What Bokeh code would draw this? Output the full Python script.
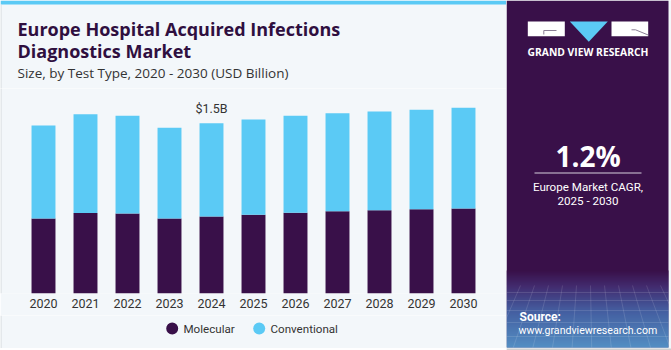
from bokeh.plotting import figure
from bokeh.models import Range1d, FactorRange, ColumnDataSource
from bokeh.layouts import row, column
from bokeh.embed import file_html
from bokeh.resources import INLINE
from bokeh.core.properties import value

# ---------------- data ----------------
years = ["2020", "2021", "2022", "2023", "2024", "2025", "2026", "2027", "2028", "2029", "2030"]
molecular = [0.66, 0.71, 0.705, 0.66, 0.678, 0.693, 0.711, 0.725, 0.734, 0.743, 0.749]
conventional = [0.82, 0.87, 0.861, 0.80, 0.822, 0.84, 0.855, 0.864, 0.869, 0.875, 0.887]
series_names = ["Molecular", "Conventional"]
series_colors = ["#391049", "#5BCAF5"]
title_lines = ["Europe Hospital Acquired Infections", "Diagnostics Market"]
subtitle = "Size, by Test Type, 2020 - 2030 (USD Billion)"
annot_year = "2024"
annot_text = "$1.5B"
cagr_value = "1.2%"
cagr_lines = ["Europe Market CAGR,", "2025 - 2030"]
brand = "GRAND VIEW RESEARCH"
source_lines = ["Source:", "www.grandviewresearch.com"]

BG = "#F3F7FA"
PURPLE = "#391049"
BLUE = "#5BCAF5"
FONT = "Roboto"
TFONT = "Open Sans"
EDGE = "#D6D9DC"


def blank(w, h, x0, x1, y0, y1, bg=BG):
    f = figure(width=w, height=h, x_range=Range1d(x0, x1), y_range=Range1d(y1, y0),
               output_backend="svg", toolbar_location=None, min_border=0,
               x_axis_location=None, y_axis_location=None)
    f.grid.visible = False
    f.outline_line_color = None
    f.background_fill_color = bg
    f.border_fill_color = bg
    return f


# ---------------- header (page y 0..88) ----------------
hdr = blank(506, 88, 0, 506, 0, 88)
hdr.quad(left=[0], right=[506], top=[0], bottom=[4], color=BLUE, line_color=None)
hdr.quad(left=[0], right=[1], top=[4], bottom=[88], color=EDGE, line_color=None)
hdr.text(x=[17, 17], y=[28, 50], text=title_lines, text_font=value(TFONT),
         text_font_style="bold", text_font_size="18px", text_color="#2F0F3F",
         text_baseline="alphabetic")
hdr.text(x=[17], y=[72], text=[subtitle], text_font=value(TFONT),
         text_font_size="13.5px", text_color="#333333", text_baseline="alphabetic")

# ---------------- chart (page y 88..315) ----------------
pad = 43 / 42 - 0.5
src = ColumnDataSource(dict(year=years, Molecular=molecular, Conventional=conventional))
xr = FactorRange(*years, range_padding=pad, range_padding_units="absolute")
p = figure(width=506, height=227, x_range=xr, y_range=Range1d(0, 205 / 113.5),
           output_backend="svg", toolbar_location=None,
           min_border_left=0, min_border_right=0, min_border_top=0, min_border_bottom=22,
           y_axis_location=None)
p.background_fill_color = BG
p.border_fill_color = BG
p.outline_line_color = None
p.grid.visible = False
p.vbar_stack(series_names, x="year", width=0.57, color=series_colors,
             line_color=None, source=src)
p.xaxis.axis_line_color = None
p.xaxis.major_tick_line_color = None
p.xaxis.minor_tick_line_color = None
p.xaxis.major_tick_out = 0
p.xaxis.major_label_standoff = 5
p.xaxis.major_label_text_font = FONT
p.xaxis.major_label_text_font_size = "12.5px"
p.xaxis.major_label_text_color = "#333333"
p.quad(left=[-pad], right=[-pad + 1 / 42], top=[2], bottom=[0], color=EDGE, line_color=None)

i = years.index(annot_year)
asrc = ColumnDataSource(dict(x=[annot_year], y=[molecular[i] + conventional[i]], t=[annot_text]))
p.text(x="x", y="y", text="t", source=asrc, text_align="center", text_baseline="alphabetic",
       y_offset=-15, text_font=value(FONT), text_font_size="12.5px", text_color="#333333")

# ---------------- legend (page y 315..348) ----------------
leg = blank(506, 33, 0, 506, 315, 348)
leg.quad(left=[0], right=[1], top=[315], bottom=[348], color=EDGE, line_color=None)
leg_x = [171.7, 258.7]
leg.scatter(x=leg_x, y=[328, 328], marker="circle", size=12, color=series_colors, line_color=None)
leg.text(x=[x + 11.3 for x in leg_x], y=[328, 328], text=series_names, text_baseline="middle",
         text_font=value(FONT), text_font_size="11.6px", text_color="#333333")

footer = blank(506, 2, 0, 506, 0, 2, bg="#CFCFCF")

# ---------------- right panel ----------------
rp = blank(165, 350, 506, 671, 0, 350)
rp.quad(left=[506], right=[668], top=[0], bottom=[347], color=PURPLE, line_color=None)
rp.quad(left=[506], right=[671], top=[348], bottom=[350], color="#CFCFCF", line_color=None)


def hx(c):
    return tuple(int(c[k:k + 2], 16) for k in (1, 3, 5))


stops = [(270, "#391049"), (285, "#46337A"), (310, "#4878BD"), (347, "#5DB8EC")]
gl, gr, gt, gb, gc = [], [], [], [], []
for k in range(len(stops) - 1):
    (ya, ca), (yb, cb) = stops[k], stops[k + 1]
    a, b = hx(ca), hx(cb)
    for y in range(ya, yb):
        f = (y - ya) / (yb - ya)
        c = tuple(round(a[j] + (b[j] - a[j]) * f) for j in range(3))
        gl.append(506); gr.append(668); gt.append(y); gb.append(y + 1)
        gc.append("#%02x%02x%02x" % c)
rp.quad(left=gl, right=gr, top=gt, bottom=gb, color=gc, line_color=None)

for xx in range(506, 668, 14):
    rp.segment(x0=[xx], y0=[285], x1=[xx + (xx - 587) * 0.4], y1=[347],
               line_color="white", line_alpha=0.12, line_width=1)
for yy in [292, 300, 310, 322, 336]:
    rp.segment(x0=[506], y0=[yy], x1=[668], y1=[yy], line_color="white", line_alpha=0.12)

# logo
rp.quad(left=[527.3, 611], right=[564.3, 647.7], top=[21, 21], bottom=[35.7, 35.7],
        color="white", line_color=None)
rp.patch(x=[569.3, 607.3, 588.3], y=[21, 21, 41.3], color=BLUE, line_color=None)
rp.line(x=[543.3, 543.3, 556], y=[34, 30, 30], line_color="#8A7E95", line_width=1)
rp.line(x=[631, 635, 647.7], y=[29.3, 29.3, 34.5], line_color="#8A7E95", line_width=1)
rp.text(x=[587.5], y=[51], text=[brand], text_align="center", text_baseline="middle",
        text_font=value(TFONT), text_font_style="bold", text_font_size="10.3px", text_color="white")

rp.text(x=[587.5], y=[155], text=[cagr_value], text_align="center", text_baseline="alphabetic",
        text_font=value(TFONT), text_font_style="bold", text_font_size="28px", text_color="white")
rp.segment(x0=[534], y0=[172.5], x1=[641], y1=[172.5], line_color="#D8D0DE", line_width=1)
rp.text(x=[587.5, 587.5], y=[186, 200], text=cagr_lines, text_align="center", text_baseline="middle",
        text_font=value(FONT), text_font_size="11.6px", text_color="white")
rp.text(x=[519], y=[316], text=[source_lines[0]], text_baseline="middle",
        text_font=value(FONT), text_font_style="bold", text_font_size="12px", text_color="white")
rp.text(x=[518], y=[329.5], text=[source_lines[1]], text_baseline="middle",
        text_font=value(FONT), text_font_size="10.6px", text_color="white")

layout = row(column(hdr, p, leg, footer), rp)
open("out.html", "w").write(file_html(layout, INLINE))
